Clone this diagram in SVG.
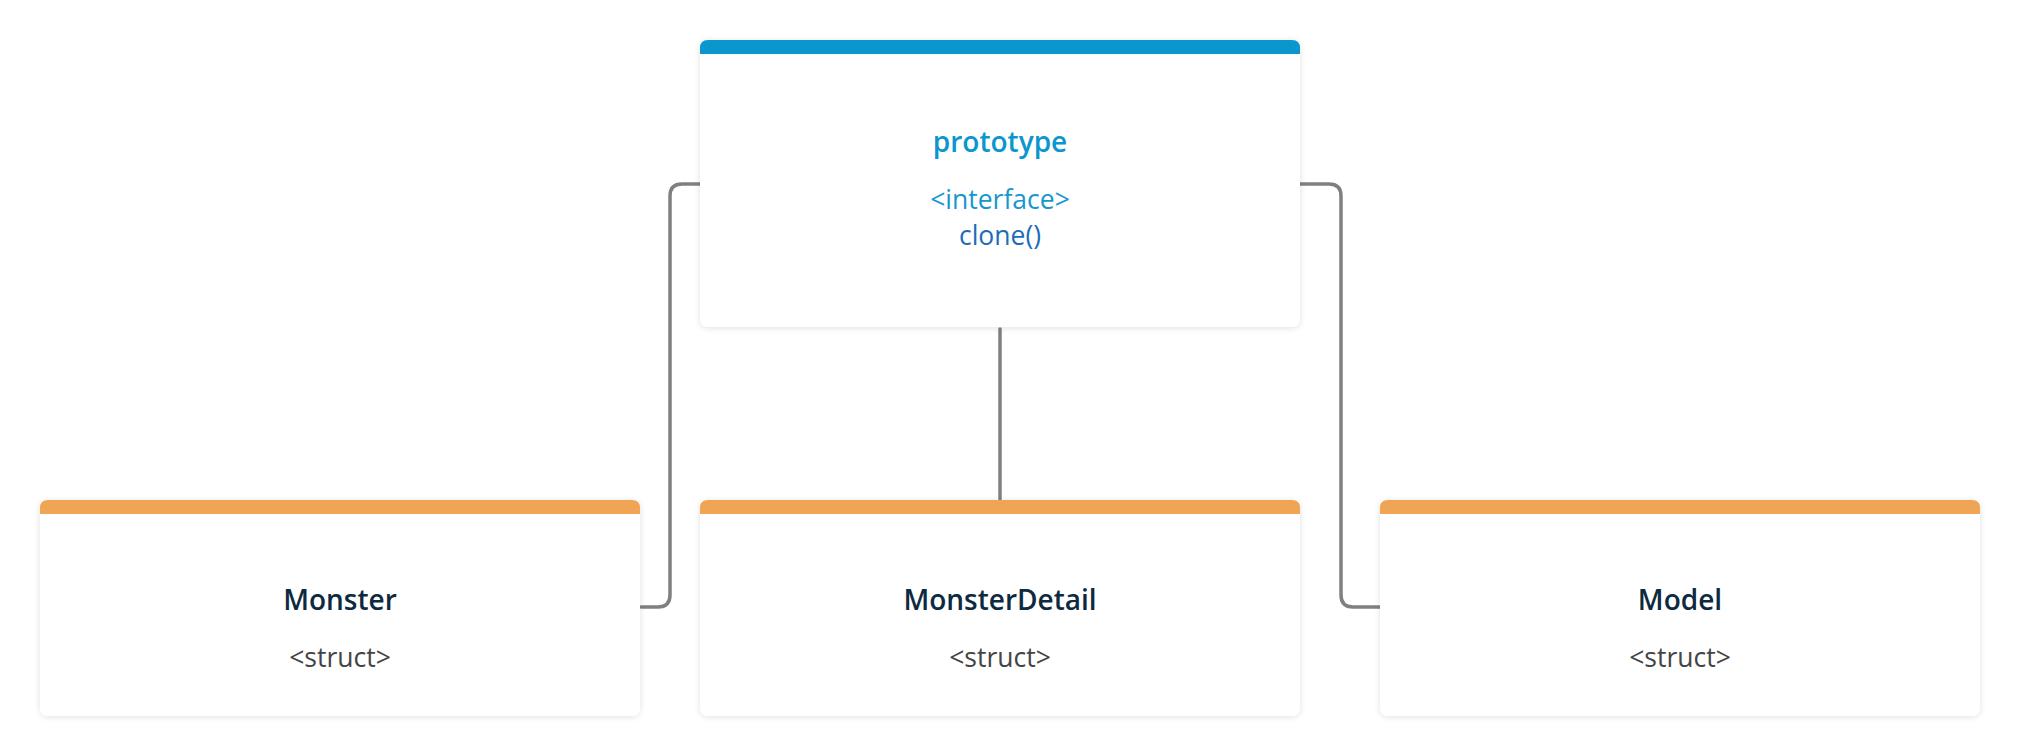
<svg xmlns="http://www.w3.org/2000/svg" width="2020" height="756" viewBox="0 0 2020 756">
<style>
.card{fill:#ffffff;filter:url(#sh)}
.hb{fill:#0b96ce}
.ho{fill:#f0a555}
.t{font-family:"Open Sans","Noto Sans",sans-serif;text-anchor:middle}
.title{font-size:28px;font-weight:600}
.sub{font-size:26.5px}
.conn{fill:none;stroke:#808080;stroke-width:3.5;stroke-linecap:round}
</style>
<defs>
<filter id="sh" x="-5%" y="-5%" width="110%" height="115%">
<feDropShadow dx="0" dy="1" stdDeviation="3" flood-color="#000" flood-opacity="0.12"/>
</filter>
</defs>
<rect width="2020" height="756" fill="#ffffff"/>
<g id="connectors">
<path class="conn" d="M700,184 H682 Q670,184 670,196 V595 Q670,607 658,607 H641"/>
<path class="conn" d="M1300,184 H1329 Q1341,184 1341,196 V595 Q1341,607 1353,607 H1380"/>
<path class="conn" d="M1000,329 V499"/>
</g>
<g id="prototype">
<rect class="card" x="700" y="40" width="600" height="287" rx="8"/>
<path class="hb" d="M700,54 V48 Q700,40 708,40 H1292 Q1300,40 1300,48 V54 Z"/>
<text class="t title" x="1000" y="152" fill="#0b96ce">prototype</text>
<text class="t sub" x="1000" y="209" fill="#1796cf">&lt;interface&gt;</text>
<text class="t sub" x="1000" y="245" fill="#1e6cb8">clone()</text>
</g>
<g id="Monster">
<rect class="card" x="40" y="500" width="600" height="216" rx="8"/>
<path class="ho" d="M40,514 V508 Q40,500 48,500 H632 Q640,500 640,508 V514 Z"/>
<text class="t title" x="340" y="610" fill="#0d2a40">Monster</text>
<text class="t sub" x="340" y="667" fill="#444444">&lt;struct&gt;</text>
</g>
<g id="MonsterDetail">
<rect class="card" x="700" y="500" width="600" height="216" rx="8"/>
<path class="ho" d="M700,514 V508 Q700,500 708,500 H1292 Q1300,500 1300,508 V514 Z"/>
<text class="t title" x="1000" y="610" fill="#0d2a40">MonsterDetail</text>
<text class="t sub" x="1000" y="667" fill="#444444">&lt;struct&gt;</text>
</g>
<g id="Model">
<rect class="card" x="1380" y="500" width="600" height="216" rx="8"/>
<path class="ho" d="M1380,514 V508 Q1380,500 1388,500 H1972 Q1980,500 1980,508 V514 Z"/>
<text class="t title" x="1680" y="610" fill="#0d2a40">Model</text>
<text class="t sub" x="1680" y="667" fill="#444444">&lt;struct&gt;</text>
</g>
</svg>
